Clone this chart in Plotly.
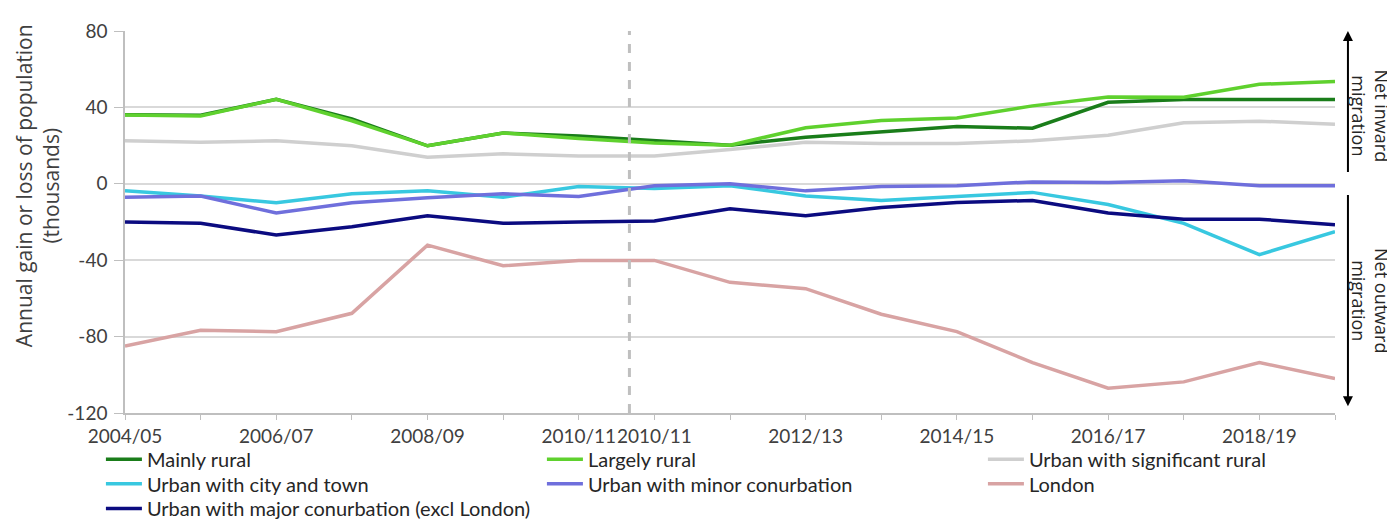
import plotly.graph_objects as go

categories = ["2004/05", "2005/06", "2006/07", "2007/08", "2008/09", "2009/10", "2010/11",
              "2010/11", "2011/12", "2012/13", "2013/14", "2014/15", "2015/16", "2016/17",
              "2017/18", "2018/19", "2019/20"]
shown_labels = ["2004/05", "", "2006/07", "", "2008/09", "", "2010/11",
                "2010/11", "", "2012/13", "", "2014/15", "", "2016/17", "", "2018/19", ""]
y_ticks = [-120, -80, -40, 0, 40, 80]
y_tick_labels = ["-120", "-80", "-40", "0", "40", "80"]

mainly_rural = [36.2, 35.9, 44.2, 34.0, 19.9, 26.6, 25.0, 22.5, 20.2, 24.4, 27.4, 30.0, 29.1, 42.7, 44.2, 44.2, 44.2]
largely_rural = [36.0, 35.5, 44.2, 33.0, 19.9, 26.6, 23.7, 21.4, 20.2, 29.3, 33.1, 34.5, 40.8, 45.5, 45.3, 52.1, 53.5]
urban_sig_rural = [22.5, 21.8, 22.5, 19.9, 13.9, 15.7, 14.5, 14.5, 17.9, 21.8, 21.1, 21.1, 22.5, 25.4, 32.0, 32.8, 31.2]
urban_city_town = [-3.7, -6.4, -9.9, -5.2, -3.7, -7.0, -1.4, -2.4, -1.0, -6.4, -8.7, -6.4, -4.5, -10.8, -20.7, -37.1, -25.1]
urban_minor = [-7.0, -6.4, -15.3, -9.9, -7.3, -5.2, -6.6, -1.0, 0.0, -3.7, -1.4, -1.0, 1.0, 0.7, 1.6, -1.0, -1.0]
london = [-85.0, -76.7, -77.4, -67.8, -32.1, -42.9, -40.1, -40.1, -51.6, -54.9, -68.3, -77.4, -93.6, -107.0, -103.7, -93.6, -101.9]
urban_major = [-20.0, -20.7, -26.8, -22.5, -16.7, -20.7, -20.0, -19.5, -13.1, -16.7, -12.4, -9.8, -8.7, -15.3, -18.5, -18.5, -21.4]

series = [
    ("Mainly rural", mainly_rural, "#1a7d1a", "legend"),
    ("Largely rural", largely_rural, "#5fd12e", "legend"),
    ("Urban with significant rural", urban_sig_rural, "#cfcfcf", "legend"),
    ("Urban with city and town", urban_city_town, "#38c8e0", "legend2"),
    ("Urban with minor conurbation", urban_minor, "#6f6fdc", "legend2"),
    ("London", london, "#d8a3a3", "legend2"),
    ("Urban with major conurbation (excl London)", urban_major, "#0b0b80", "legend3"),
]

xs = list(range(len(categories)))
fig = go.Figure()
for name, vals, col, lg in series:
    fig.add_trace(go.Scatter(x=xs, y=vals, name=name, mode="lines", legend=lg,
                             line=dict(color=col, width=3.5)))

TICKFONT = dict(family="Lato, Open Sans, sans-serif", size=19, color="#404040")
YTICKFONT = dict(family="Lato, Open Sans, sans-serif", size=19, color="#404040")
LEGFONT = dict(family="Lato, Open Sans, sans-serif", size=20, color="#262626")


def leg(y):
    return dict(orientation="h", x=-0.0199, y=y, xanchor="left", yanchor="top",
                font=LEGFONT, entrywidth=390, entrywidthmode="pixels", itemwidth=36,
                bgcolor="rgba(0,0,0,0)")


fig.update_layout(
    width=1395, height=520,
    margin=dict(l=117, r=68, t=23, b=115, autoexpand=False),
    plot_bgcolor="white", paper_bgcolor="white",
    showlegend=True,
    legend=leg(-0.070),
    legend2=leg(-0.134),
    legend3=leg(-0.199),
    xaxis=dict(range=[0, 16], tickmode="array", tickvals=xs, ticktext=shown_labels,
               showgrid=False, showline=True, linecolor="#bfbfbf", linewidth=1.5,
               ticks="outside", ticklen=5, tickcolor="#bfbfbf", tickfont=TICKFONT,
               zeroline=False, tickangle=0),
    yaxis=dict(range=[-120, 80], tickmode="array", tickvals=y_ticks, ticktext=y_tick_labels,
               showgrid=True, gridcolor="#d9d9d9", gridwidth=1.5,
               showline=True, linecolor="#bfbfbf", linewidth=1.5,
               ticks="outside", ticklen=9, tickcolor="#bfbfbf", tickfont=YTICKFONT,
               ticklabelstandoff=3, zeroline=False),
)

# y-axis title (placed as annotation to match the reference's offset position)
fig.add_annotation(xref="paper", yref="paper", x=-0.0727, y=0.594,
                   text="Annual gain or loss of population<br>(thousands)",
                   textangle=-90, showarrow=False, xanchor="center", yanchor="middle",
                   font=dict(family="Open Sans, sans-serif", size=21, color="#404040"))

# dashed break line between the two 2010/11 points
fig.add_shape(type="line", xref="x", yref="paper", x0=6.67, x1=6.67, y0=0, y1=1,
              line=dict(color="#bfbfbf", width=3, dash="dash"))

# right side arrows
arrow_x = 1.0107
fig.add_annotation(xref="paper", yref="y", x=arrow_x, y=80, axref="pixel", ayref="y",
                   ax=0, ay=5.4, text="", showarrow=True, arrowhead=2, arrowsize=1,
                   arrowwidth=2, arrowcolor="black")
fig.add_annotation(xref="paper", yref="y", x=arrow_x, y=-116.5, axref="pixel", ayref="y",
                   ax=0, ay=-5.1, text="", showarrow=True, arrowhead=2, arrowsize=1,
                   arrowwidth=2, arrowcolor="black")

SIDEFONT = dict(family="Open Sans, sans-serif", size=18, color="#262626")
fig.add_annotation(xref="paper", yref="y", x=1.0293, y=35.5, text="Net inward<br>migration",
                   showarrow=False, textangle=90, font=SIDEFONT, xanchor="center", yanchor="middle")
fig.add_annotation(xref="paper", yref="y", x=1.0293, y=-61.1, text="Net outward<br>migration",
                   showarrow=False, textangle=90, font=SIDEFONT, xanchor="center", yanchor="middle")

fig.write_html("out.html")
